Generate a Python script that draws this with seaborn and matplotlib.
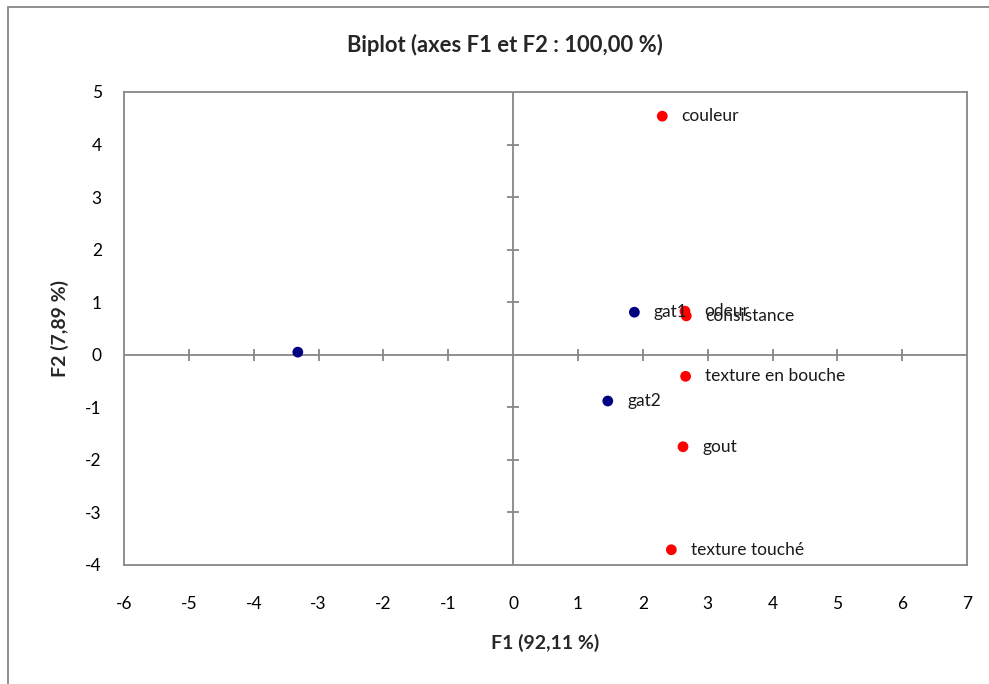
import matplotlib
matplotlib.use("Agg")
import matplotlib.pyplot as plt
import seaborn as sns
import pandas as pd
from matplotlib.patches import Rectangle

# Observations (products) and variables (criteria) in the F1/F2 plane
obs_labels = ["", "gat1", "gat2"]
obs_f1 = [-3.32, 1.87, 1.46]
obs_f2 = [0.05, 0.81, -0.88]

var_labels = ["couleur", "odeur", "consistance", "texture en bouche", "gout", "texture touché"]
var_f1 = [2.30, 2.65, 2.67, 2.66, 2.62, 2.44]
var_f2 = [4.54, 0.83, 0.74, -0.41, -1.75, -3.71]

x_ticks = list(range(-6, 8))
y_ticks = list(range(-4, 6))

title = "Biplot (axes F1 et F2 : 100,00 %)"
x_label = "F1 (92,11 %)"
y_label = "F2 (7,89 %)"

df = pd.DataFrame({
    "F1": obs_f1 + var_f1,
    "F2": obs_f2 + var_f2,
    "label": obs_labels + var_labels,
    "kind": ["obs"] * len(obs_f1) + ["var"] * len(var_f1),
})

sns.set_theme(style="white")
plt.rcParams["font.family"] = ["Lato", "DejaVu Sans"]
plt.rcParams["axes.unicode_minus"] = False

gray = "#878787"
fig = plt.figure(figsize=(9.89, 6.84), dpi=100)
ax = fig.add_axes([0.1254, 0.174, 0.8524, 0.6915])

# outer chart frame (left and top edges visible)
fig.patches.append(Rectangle((8 / 989, -0.05), 1.2, 1 - 7 / 684 + 0.05,
                             transform=fig.transFigure, fill=False,
                             edgecolor=gray, linewidth=1.3))

# zero axes with crossing tick marks
ax.axhline(0, color=gray, lw=1.3, zorder=1)
ax.axvline(0, color=gray, lw=1.3, zorder=1)
inner_x = [t for t in x_ticks if t not in (x_ticks[0], x_ticks[-1], 0)]
inner_y = [t for t in y_ticks if t not in (y_ticks[0], y_ticks[-1], 0)]
ax.scatter(inner_x, [0] * len(inner_x), marker="|", s=75, color=gray, lw=1.3, zorder=1)
ax.scatter([0] * len(inner_y), inner_y, marker="_", s=75, color=gray, lw=1.3, zorder=1)

sns.scatterplot(data=df, x="F1", y="F2", hue="kind",
                palette={"obs": "#000080", "var": "#FF0000"},
                s=60, edgecolor="none", legend=False, ax=ax, zorder=3)

for _, r in df.iterrows():
    if r["label"]:
        ax.annotate(r["label"], (r["F1"], r["F2"]), xytext=(14, 0),
                    textcoords="offset points", va="center", ha="left",
                    fontsize=12.5, color="#1a1a1a", zorder=4)

ax.set_xlim(x_ticks[0], x_ticks[-1])
ax.set_ylim(y_ticks[0], y_ticks[-1])
ax.set_xticks(x_ticks)
ax.set_yticks(y_ticks)
ax.tick_params(axis="both", length=0, labelsize=12.5, colors="black")
ax.tick_params(axis="x", pad=22)
ax.tick_params(axis="y", pad=16)
for s in ax.spines.values():
    s.set_color(gray)
    s.set_linewidth(1.3)

ax.set_xlabel(x_label, fontsize=14, fontweight="bold", labelpad=16)
ax.set_ylabel(y_label, fontsize=14, fontweight="bold", labelpad=12)
fig.text(0.511, 0.934, title, ha="center", va="center", fontsize=15.8, fontweight="bold")

fig.savefig("out.png", dpi=100, facecolor="white")
